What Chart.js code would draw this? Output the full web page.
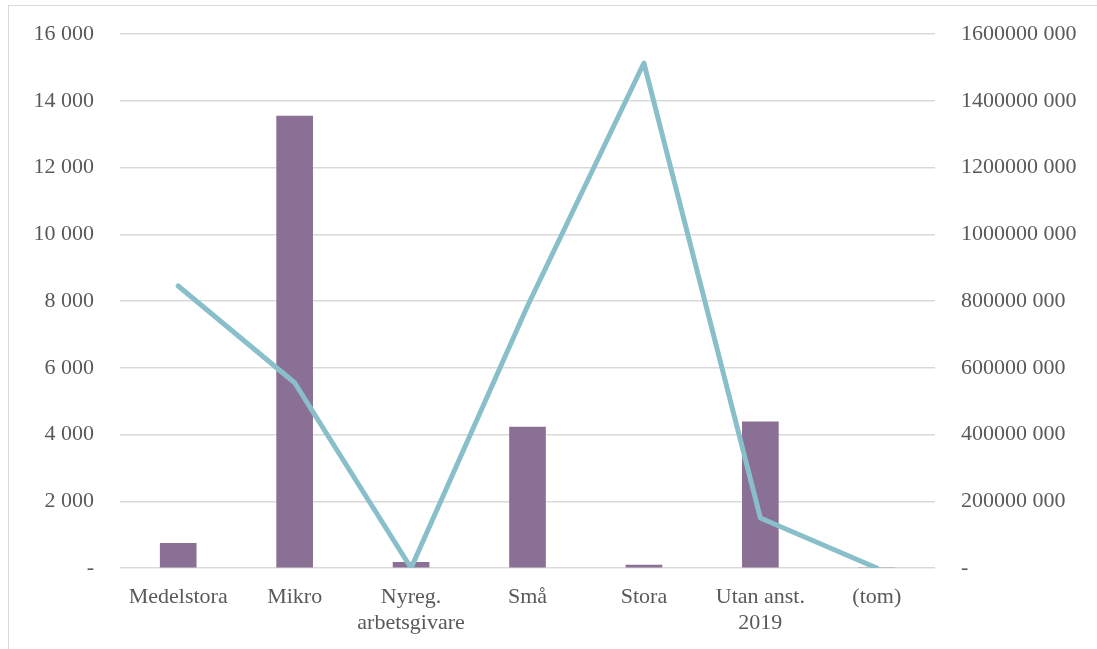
<!DOCTYPE html>
<html>
<head>
<meta charset="utf-8">
<script src="https://cdn.jsdelivr.net/npm/chart.js"></script>
<style>
    html, body { margin: 0; padding: 0; background: #fff; overflow: hidden; }
    #frame {
        position: absolute; left: 8px; top: 5px; width: 1200px; height: 700px;
        border-top: 1.5px solid #d9d9d9; border-left: 1.5px solid #d9d9d9;
    }
    #wrap { position: absolute; left: 0; top: 0; width: 1097px; height: 649px; }
</style>
</head>
<body>
<div id="frame"></div>
<div id="wrap"><canvas id="myChart"></canvas></div>
<script>
    // Data
    const categories = ['Medelstora', 'Mikro', ['Nyreg.', 'arbetsgivare'], 'Små', 'Stora', ['Utan anst.', '2019'], '(tom)'];
    const antal = [740, 13540, 170, 4225, 90, 4380, 0];
    const summa = [845000000, 555000000, 8000, 785000000, 1513000000, 150000000, 0];

    Chart.defaults.font.family = "'Liberation Serif', 'DejaVu Serif', serif";
    Chart.defaults.font.size = 22;
    Chart.defaults.color = '#595959';

    // "16 000", "1600000 000", "-" for zero
    function fmt(v) {
        if (v === 0) return '-';
        return (v / 1000) + ' 000';
    }

    function fitY(width) {
        return (s) => {
            s.width = width;
            s.paddingTop = 0;
            s.paddingBottom = 0;
        };
    }

    const ctx = document.getElementById('myChart').getContext('2d');

    const myChart = new Chart(ctx, {
        type: 'bar',
        data: {
            labels: categories,
            datasets: [
                {
                    type: 'line',
                    label: 'Summa',
                    data: summa,
                    yAxisID: 'y2',
                    borderColor: '#89bfca',
                    borderWidth: 5,
                    borderCapStyle: 'round',
                    borderJoinStyle: 'round',
                    pointRadius: 0,
                    tension: 0,
                    order: 0
                },
                {
                    label: 'Antal',
                    data: antal,
                    yAxisID: 'y',
                    backgroundColor: '#8a7094',
                    barThickness: 36,
                    order: 1
                }
            ]
        },
        options: {
            responsive: true,
            maintainAspectRatio: false,
            animation: false,
            layout: { padding: { top: 34, left: 0, right: 0, bottom: 0 } },
            plugins: {
                legend: { display: false },
                tooltip: { enabled: false }
            },
            scales: {
                x: {
                    grid: { display: false, drawTicks: false },
                    border: { display: false },
                    ticks: { padding: 17, maxRotation: 0, autoSkip: false, font: { lineHeight: 1.15 } },
                    afterFit: (s) => { s.height = 81; }
                },
                y: {
                    position: 'left',
                    min: 0,
                    max: 16000,
                    ticks: { stepSize: 2000, padding: 26, callback: fmt },
                    grid: { color: '#d9d9d9', lineWidth: 1.5, drawTicks: false },
                    border: { display: false },
                    afterFit: fitY(120)
                },
                y2: {
                    position: 'right',
                    min: 0,
                    max: 1600000000,
                    ticks: { stepSize: 200000000, padding: 26, callback: fmt },
                    grid: { display: false, drawTicks: false },
                    border: { display: false },
                    afterFit: fitY(162)
                }
            }
        }
    });
</script>
</body>
</html>
